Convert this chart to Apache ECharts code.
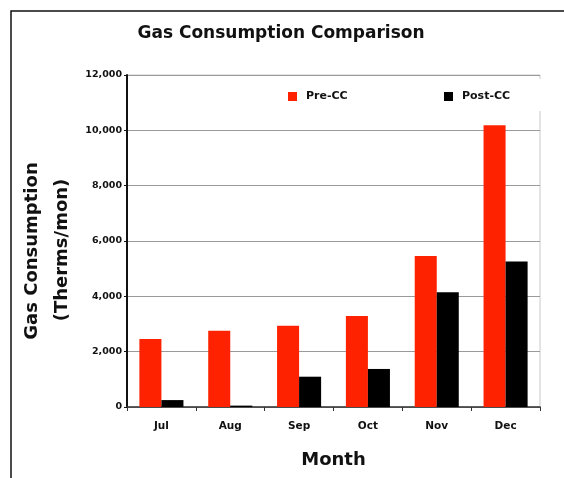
<!DOCTYPE html>
<html>
<head>
<meta charset="utf-8">
<script src="https://cdn.jsdelivr.net/npm/echarts@6/dist/echarts.min.js"></script>
<style>html,body{margin:0;padding:0;background:#fff;}#c{width:564px;height:478px;}</style>
</head>
<body>
<div id="c"></div>
<script>
const months = ['Jul', 'Aug', 'Sep', 'Oct', 'Nov', 'Dec'];
const preCC = [2460, 2760, 2940, 3290, 5460, 10180];
const postCC = [250, 50, 1095, 1375, 4150, 5260];
const yTicks = [0, 2000, 4000, 6000, 8000, 10000, 12000];

const chart = echarts.init(document.getElementById('c'), null, {renderer: 'canvas'});
const FONT = '"DejaVu Sans", "Liberation Sans", Arial, sans-serif';
chart.setOption({
  animation: false,
  backgroundColor: '#fff',
  title: {
    text: 'Gas Consumption Comparison',
    left: 276, top: 20, textAlign: 'center',
    textStyle: {fontFamily: FONT, fontWeight: 'bold', fontSize: 17, color: '#111'}
  },
  legend: [
    {
      top: 86, left: 283, itemWidth: 9, itemHeight: 9, icon: 'rect',
      textStyle: {fontFamily: FONT, fontWeight: 'bold', fontSize: 11, color: '#111', padding: [0, 0, 0, 4]},
      data: ['Pre-CC']
    },
    {
      top: 86, left: 439, itemWidth: 9, itemHeight: 9, icon: 'rect',
      textStyle: {fontFamily: FONT, fontWeight: 'bold', fontSize: 11, color: '#111', padding: [0, 0, 0, 4]},
      data: ['Post-CC']
    }
  ],
  grid: {left: 127, right: 24, top: 75, bottom: 71, show: true, borderColor: '#c8c8c8', borderWidth: 1},
  xAxis: {
    type: 'category', data: months,
    name: 'Month', nameLocation: 'middle', nameGap: 44,
    nameTextStyle: {fontFamily: FONT, fontWeight: 'bold', fontSize: 18, color: '#111'},
    axisLine: {lineStyle: {color: '#333', width: 1.5}},
    axisTick: {show: true, alignWithLabel: false, length: 4, lineStyle: {color: '#333'}},
    axisLabel: {margin: 14, fontFamily: FONT, fontWeight: 'bold', fontSize: 10.5, color: '#111'}
  },
  yAxis: {
    type: 'value', min: 0, max: 12000, interval: 2000,
    axisLine: {show: true, lineStyle: {color: '#111', width: 2}},
    axisTick: {show: true, length: 3, lineStyle: {color: '#111'}},
    splitLine: {lineStyle: {color: '#9a9a9a', width: 1}},
    axisLabel: {
      margin: 5, fontFamily: FONT, fontWeight: 'bold', fontSize: 9.5, color: '#111',
      formatter: v => v.toLocaleString('en-US')
    }
  },
  series: [
    {name: 'Pre-CC', type: 'bar', data: preCC, barGap: '0%', barCategoryGap: '36%', itemStyle: {color: '#ff2200'}},
    {name: 'Post-CC', type: 'bar', data: postCC, itemStyle: {color: '#000'}}
  ],
  graphic: [
    {type: 'polyline', shape: {points: [[11, 480], [11, 11], [570, 11]]}, style: {stroke: '#111', lineWidth: 1.5, fill: null}},
    {type: 'rect', z: 3, shape: {x: 270, y: 79, width: 273, height: 32}, style: {fill: '#fff'}},
    {type: 'text', x: 32, y: 251, rotation: Math.PI / 2,
     style: {text: 'Gas Consumption', fontFamily: FONT, fontWeight: 'bold', fontSize: 18, fill: '#111', align: 'center', verticalAlign: 'middle'}},
    {type: 'text', x: 62, y: 250, rotation: Math.PI / 2,
     style: {text: '(Therms/mon)', fontFamily: FONT, fontWeight: 'bold', fontSize: 18, fill: '#111', align: 'center', verticalAlign: 'middle'}}
  ]
});
</script>
</body>
</html>
